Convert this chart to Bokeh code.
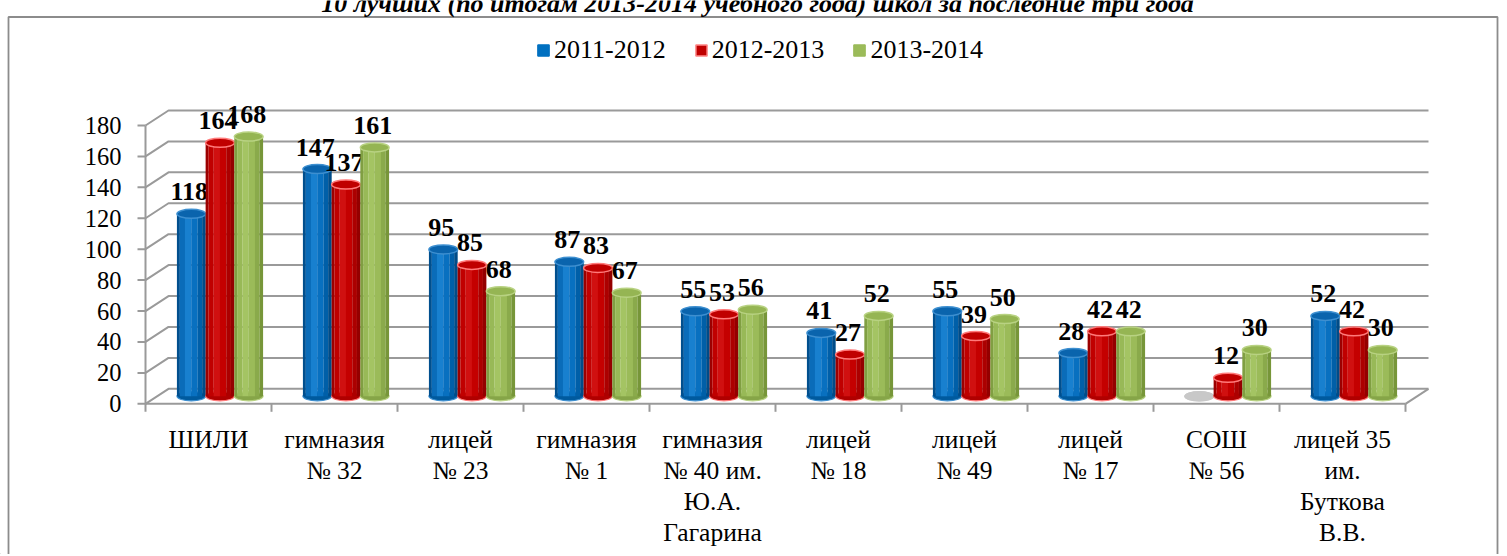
from bokeh.plotting import figure
from bokeh.models import Range1d, Legend, LegendItem
from bokeh.core.properties import value
from bokeh.embed import file_html
from bokeh.resources import INLINE

# ---------------- data ----------------
categories = ["ШИЛИ", "гимназия\n№ 32", "лицей\n№ 23", "гимназия\n№ 1",
              "гимназия\n№ 40 им.\nЮ.А.\nГагарина", "лицей\n№ 18", "лицей\n№ 49",
              "лицей\n№ 17", "СОШ\n№ 56", "лицей 35\nим.\nБуткова\nВ.В."]
series_names = ["2011-2012", "2012-2013", "2013-2014"]
v2011 = [118, 147, 95, 87, 55, 41, 55, 28, 0, 52]
v2012 = [164, 137, 85, 83, 53, 27, 39, 42, 12, 42]
v2013 = [168, 161, 68, 67, 56, 52, 50, 42, 30, 30]
y_ticks = [0, 20, 40, 60, 80, 100, 120, 140, 160, 180]
title_text = "10 лучших (по итогам 2013-2014 учебного года) школ за последние три года"

# ---------------- layout constants (pixels) ----------------
W, H = 1505, 554
PAGE_LEFT, PAGE_TOP = 0, 0
X0, CAT_PX = 145.0, 126.0
Y0, UNIT_PX = 403.3, 1.546


def ux(px):
    return px / CAT_PX


def uy(px):
    return px / UNIT_PX


def pxx(page_x):
    return (page_x - X0) / CAT_PX


def pxy(page_y):
    return (Y0 - page_y) / UNIT_PX


x_start = pxx(PAGE_LEFT)
x_end = x_start + W / CAT_PX
y_end = pxy(PAGE_TOP)
y_start = y_end - H / UNIT_PX

n = len(categories)
DX, DY = ux(23), uy(15)
BW = ux(28.7)
EH = uy(9)

SERIF = "Liberation Serif"
GRID = "#9a9a9a"

p = figure(width=W, height=H, x_range=Range1d(x_start, x_end), y_range=Range1d(y_start, y_end),
           x_axis_location=None, y_axis_location=None, toolbar_location=None,
           output_backend="svg", min_border=0, outline_line_color=None)
p.xgrid.visible = False
p.ygrid.visible = False

# outer border
bl, br, bt = pxx(8), pxx(1497), pxy(16.5)
p.line(x=[bl, bl, br, br], y=[y_start - 5, bt, bt, y_start - 5], line_color="#8c8c8c", line_width=1.8)

# title (clipped at the top like the original)
p.text(x=[pxx(757)], y=[pxy(3)], text=[title_text], text_align="center", text_baseline="alphabetic",
       text_font=value(SERIF), text_font_style="bold italic", text_font_size="26px", text_color="#000000")

# walls: back gridlines + left-wall diagonals
p.multi_line(xs=[[0, DX, n + DX] for t in y_ticks], ys=[[t, t + DY, t + DY] for t in y_ticks],
             line_color=GRID, line_width=2)
# floor
p.multi_line(xs=[[0, n], [n, n + DX]], ys=[[0, 0], [0, DY]], line_color=GRID, line_width=2)
# vertical axis + ticks
p.line(x=[0, 0], y=[0, y_ticks[-1]], line_color=GRID, line_width=2)
p.segment(x0=[-ux(8)] * len(y_ticks), y0=y_ticks, x1=[0] * len(y_ticks), y1=y_ticks,
          line_color=GRID, line_width=2)
# category ticks
p.segment(x0=list(range(n + 1)), y0=[0] * (n + 1), x1=list(range(n + 1)), y1=[-uy(8)] * (n + 1),
          line_color=GRID, line_width=2)

# y tick labels
p.text(x=[pxx(121)] * len(y_ticks), y=y_ticks, text=[str(t) for t in y_ticks], text_align="right",
       text_baseline="middle", text_font=value(SERIF), text_font_size="24.5px", text_color="#000000")

# category labels
p.text(x=[i + 0.5 for i in range(n)], y=[pxy(424)] * n, text=categories, text_align="center",
       text_baseline="top", text_font=value(SERIF), text_font_size="25.5px", text_color="#000000",
       text_line_height=1.08)

# cylinder styles
styles = [
    dict(strips=[(0.00, 0.10, "#004f8e"), (0.10, 0.28, "#0a6cb9"), (0.28, 0.50, "#1880cf"),
                 (0.50, 0.72, "#0870c0"), (0.72, 0.88, "#005fa8"), (0.88, 1.00, "#004c88")],
         top="#0a64ad", rim="#3d8fd0", bottom="#005a9e", legend="#0070c0", legend_line="#0070c0"),
    dict(strips=[(0.00, 0.10, "#9c0000"), (0.10, 0.28, "#c00000"), (0.28, 0.50, "#d01010"),
                 (0.50, 0.72, "#c40000"), (0.72, 0.88, "#ac0000"), (0.88, 1.00, "#940000")],
         top="#c00000", rim="#ff7a7a", bottom="#b00000", legend="#c00000", legend_line="#ff8c8c"),
    dict(strips=[(0.00, 0.10, "#809f42"), (0.10, 0.28, "#98b957"), (0.28, 0.50, "#a4c463"),
                 (0.50, 0.72, "#9bbb59"), (0.72, 0.88, "#8aaa4b"), (0.88, 1.00, "#779639")],
         top="#95b553", rim="#b8d282", bottom="#86a548", legend="#9bbb59", legend_line="#9bbb59"),
]
ZERO = "#c8c8c8"

legend_items = []
for j, (vals, st, name) in enumerate(zip([v2011, v2012, v2013], styles, series_names)):
    xc = [i + 0.5 + (j - 1) * BW + DX / 2 for i in range(n)]
    top = [v + DY / 2 for v in vals]
    base = DY / 2
    # bottom ellipse
    p.ellipse(x=xc, y=[base] * n, width=BW, height=EH,
              fill_color=[ZERO if v == 0 else st["bottom"] for v in vals],
              line_color=[ZERO if v == 0 else st["rim"] for v in vals], line_width=1.2)
    # body strips
    for (l, r, c) in st["strips"]:
        p.vbar(x=[x - BW / 2 + (l + r) / 2 * BW for x in xc], width=(r - l) * BW * 1.02,
               bottom=base, top=top, fill_color=c, line_color=None)
    # top ellipse
    p.ellipse(x=xc, y=top, width=BW, height=EH,
              fill_color=[ZERO if v == 0 else st["top"] for v in vals],
              line_color=[ZERO if v == 0 else st["rim"] for v in vals], line_width=1.5)
    # value labels
    p.text(x=[x - ux(2) for x in xc], y=top, text=[str(v) if v else "" for v in vals],
           y_offset=-22, text_align="center", text_baseline="middle", text_font=value(SERIF),
           text_font_style="bold", text_font_size="26px", text_color="#000000")
    # legend proxy (a single bar placed far outside the visible area)
    r = p.vbar(x=[x_start - 50], bottom=[y_start - 500], top=[y_start - 400], width=0.1,
               fill_color=st["legend"], line_color=st["legend_line"], line_width=1.5)
    legend_items.append(LegendItem(label=name, renderers=[r]))

legend = Legend(items=legend_items, orientation="horizontal", location=(536, H - 65),
                glyph_width=14, glyph_height=14, label_text_font=SERIF, label_text_font_size="26px",
                label_standoff=4, spacing=28, padding=0, margin=0, border_line_color=None,
                background_fill_alpha=0, label_text_color="#000000")
p.add_layout(legend)

open("out.html", "w").write(file_html(p, INLINE))
